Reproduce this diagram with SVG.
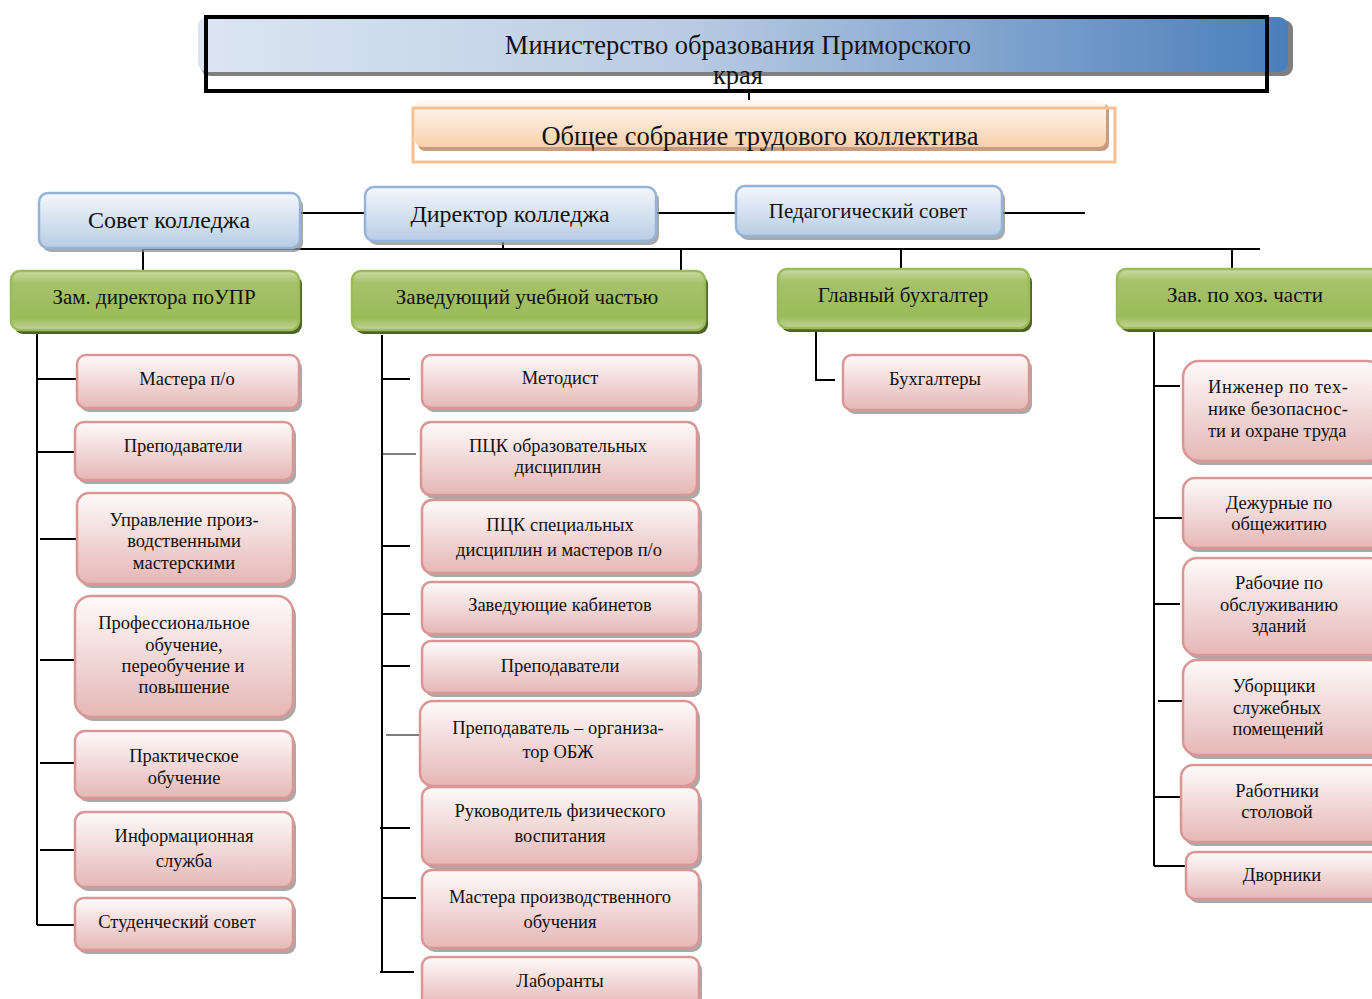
<svg xmlns="http://www.w3.org/2000/svg" width="1372" height="999" viewBox="0 0 1372 999">
<defs>
<linearGradient id="gMin" x1="0" y1="0" x2="1" y2="0"><stop offset="0" stop-color="#dce6f2"/><stop offset="0.45" stop-color="#b9cbe3"/><stop offset="1" stop-color="#4a7ebb"/></linearGradient>
<linearGradient id="gOr" x1="0" y1="0" x2="0" y2="1"><stop offset="0" stop-color="#fffaf6"/><stop offset="1" stop-color="#f9d0ac"/></linearGradient>
<linearGradient id="gBlue" x1="0" y1="0" x2="0" y2="1"><stop offset="0" stop-color="#f4f7fc"/><stop offset="1" stop-color="#b8cce4"/></linearGradient>
<linearGradient id="gGreen" x1="0" y1="0" x2="0" y2="1"><stop offset="0" stop-color="#c9dca5"/><stop offset="0.2" stop-color="#a6c26a"/><stop offset="0.8" stop-color="#9bbb59"/><stop offset="1" stop-color="#c3d69b"/></linearGradient>
<linearGradient id="gPink" x1="0" y1="0" x2="0" y2="1"><stop offset="0" stop-color="#fefafa"/><stop offset="1" stop-color="#e5b7b6"/></linearGradient>
<style>
text{font-family:"Liberation Serif","Times New Roman",serif;fill:#111;text-anchor:middle}
.t26{font-size:26.5px}.t24{font-size:24px}.t21{font-size:21px}.t18{font-size:18.5px}
.sh{fill:#8c8c8c;opacity:0.75}
.shg{fill:#4f6228}
.blue{fill:url(#gBlue);stroke:#95b3d7;stroke-width:2.5}
.green{fill:url(#gGreen);stroke:#9bbb59;stroke-width:2.5}
.pink{fill:url(#gPink);stroke:#d99694;stroke-width:2.5}
.ln{stroke:#000;stroke-width:2;fill:none}
.lt{stroke:#000;stroke-width:1.2;fill:none}
</style>
</defs>

<g id="connectors">
<line class="ln" x1="749" y1="92" x2="749" y2="106"/>
<line class="ln" x1="300" y1="213" x2="366" y2="213"/>
<line class="ln" x1="656" y1="213" x2="737" y2="213"/>
<line class="ln" x1="1002" y1="213" x2="1085" y2="213"/>
<line class="ln" x1="503" y1="241" x2="503" y2="249"/>
<line class="ln" x1="143" y1="249" x2="1260" y2="249"/>
<line class="ln" x1="143" y1="249" x2="143" y2="271"/>
<line class="ln" x1="681" y1="249" x2="681" y2="271"/>
<line class="ln" x1="901" y1="249" x2="901" y2="269"/>
<line class="ln" x1="1232" y1="249" x2="1232" y2="269"/>
<!-- left column -->
<line class="ln" x1="37" y1="334" x2="37" y2="925"/>
<line class="ln" x1="37" y1="379" x2="77" y2="379"/>
<line class="ln" x1="37" y1="452" x2="76" y2="452"/>
<line class="ln" x1="40" y1="539" x2="77" y2="539"/>
<line class="ln" x1="40" y1="660" x2="75" y2="660"/>
<line class="ln" x1="40" y1="763" x2="75" y2="763"/>
<line class="ln" x1="40" y1="850" x2="75" y2="850"/>
<line class="ln" x1="37" y1="925" x2="75" y2="925"/>
<!-- middle column -->
<line class="ln" x1="382" y1="335" x2="382" y2="972"/>
<line class="ln" x1="382" y1="379" x2="410" y2="379"/>
<line class="lt" x1="382" y1="454" x2="416" y2="454"/>
<line class="ln" x1="382" y1="546" x2="410" y2="546"/>
<line class="ln" x1="382" y1="614" x2="410" y2="614"/>
<line class="ln" x1="382" y1="666" x2="410" y2="666"/>
<line class="lt" x1="386" y1="735" x2="419" y2="735"/>
<line class="ln" x1="380" y1="828" x2="410" y2="828"/>
<line class="ln" x1="382" y1="898" x2="416" y2="898"/>
<line class="ln" x1="380" y1="972" x2="414" y2="972"/>
<!-- accountant -->
<polyline class="ln" points="816,330 816,380 835,380"/>
<!-- right column -->
<line class="ln" x1="1154" y1="330" x2="1154" y2="866"/>
<line class="ln" x1="1154" y1="386" x2="1180" y2="386"/>
<line class="ln" x1="1154" y1="518" x2="1182" y2="518"/>
<line class="ln" x1="1154" y1="604" x2="1180" y2="604"/>
<line class="ln" x1="1158" y1="701" x2="1182" y2="701"/>
<line class="ln" x1="1154" y1="797" x2="1180" y2="797"/>
<line class="ln" x1="1154" y1="866" x2="1186" y2="866"/>
</g>

<g id="ministry">
<rect x="201" y="20" width="1092" height="56" rx="9" fill="#7f7f7f"/>
<rect x="198" y="17" width="1090" height="55" rx="9" fill="url(#gMin)"/>
<rect x="206" y="17" width="1061" height="74" fill="none" stroke="#000" stroke-width="4"/>
<text class="t26" x="738" y="54">Министерство образования Приморского</text>
<text class="t26" x="738" y="84">края</text>
</g>

<g id="general-meeting">
<rect x="418" y="103" width="691" height="48" rx="7" fill="#c89c7e"/>
<rect x="415" y="100" width="691" height="47" rx="7" fill="url(#gOr)"/>
<rect x="413" y="108" width="702" height="54" fill="none" stroke="#f7be90" stroke-width="3"/>
<text class="t26" x="760" y="145">Общее собрание трудового коллектива</text>
</g>

<g id="sovet">
<rect class="sh" x="42" y="197" width="261" height="55" rx="9"/>
<rect class="blue" x="39" y="193" width="261" height="55" rx="9"/>
<text class="t24" x="169" y="228">Совет колледжа</text>
</g>
<g id="director">
<rect class="sh" x="368" y="191" width="291" height="54" rx="9"/>
<rect class="blue" x="365" y="187" width="291" height="54" rx="9"/>
<text class="t24" x="510" y="222">Директор колледжа</text>
</g>
<g id="pedsovet">
<rect class="sh" x="739" y="190" width="266" height="50" rx="9"/>
<rect class="blue" x="736" y="186" width="266" height="50" rx="9"/>
<text class="t21" x="868" y="218">Педагогический совет</text>
</g>

<g id="zam-upr">
<rect class="shg" x="14" y="275" width="288" height="59" rx="9"/>
<rect class="green" x="11" y="271" width="288" height="59" rx="9"/>
<text class="t21" x="154" y="304">Зам. директора поУПР</text>
</g>
<g id="zav-uch">
<rect class="shg" x="355" y="275" width="353" height="59" rx="9"/>
<rect class="green" x="352" y="271" width="353" height="59" rx="9"/>
<text class="t21" x="527" y="304">Заведующий учебной частью</text>
</g>
<g id="glav-buh">
<rect class="shg" x="781" y="273" width="251" height="59" rx="9"/>
<rect class="green" x="778" y="269" width="251" height="59" rx="9"/>
<text class="t21" x="903" y="302">Главный бухгалтер</text>
</g>
<g id="zav-hoz">
<rect class="shg" x="1120" y="273" width="270" height="59" rx="9"/>
<rect class="green" x="1117" y="269" width="270" height="59" rx="9"/>
<text class="t21" x="1245" y="302">Зав. по хоз. части</text>
</g>

<!-- left column nodes -->
<g id="mastera-po">
<rect class="sh" x="80" y="359" width="222" height="53" rx="9"/>
<rect class="pink" x="77" y="355" width="222" height="53" rx="9"/>
<text class="t18" x="187" y="385">Мастера п/о</text>
</g>
<g id="prepod-1">
<rect class="sh" x="78" y="426" width="218" height="58" rx="9"/>
<rect class="pink" x="75" y="422" width="218" height="58" rx="9"/>
<text class="t18" x="183" y="452">Преподаватели</text>
</g>
<g id="upr-mast">
<rect class="sh" x="80" y="497" width="216" height="91" rx="12"/>
<rect class="pink" x="77" y="493" width="216" height="91" rx="12"/>
<text class="t18" x="184" y="526">Управление произ-</text>
<text class="t18" x="184" y="547">водственными</text>
<text class="t18" x="184" y="569">мастерскими</text>
</g>
<g id="prof-obuch">
<rect class="sh" x="78" y="600" width="218" height="121" rx="16"/>
<rect class="pink" x="75" y="596" width="218" height="121" rx="16"/>
<text class="t18" x="174" y="629">Профессиональное</text>
<text class="t18" x="184" y="651">обучение,</text>
<text class="t18" x="183" y="672">переобучение и</text>
<text class="t18" x="184" y="693">повышение</text>
</g>
<g id="prakt">
<rect class="sh" x="78" y="735" width="218" height="67" rx="10"/>
<rect class="pink" x="75" y="731" width="218" height="67" rx="10"/>
<text class="t18" x="184" y="762">Практическое</text>
<text class="t18" x="184" y="784">обучение</text>
</g>
<g id="inform">
<rect class="sh" x="78" y="816" width="218" height="75" rx="10"/>
<rect class="pink" x="75" y="812" width="218" height="75" rx="10"/>
<text class="t18" x="184" y="842">Информационная</text>
<text class="t18" x="184" y="867">служба</text>
</g>
<g id="stud-sovet">
<rect class="sh" x="78" y="902" width="218" height="52" rx="9"/>
<rect class="pink" x="75" y="898" width="218" height="52" rx="9"/>
<text class="t18" x="177" y="928">Студенческий совет</text>
</g>

<!-- middle column nodes -->
<g id="metodist">
<rect class="sh" x="425" y="359" width="277" height="53" rx="9"/>
<rect class="pink" x="422" y="355" width="277" height="53" rx="9"/>
<text class="t18" x="560" y="384">Методист</text>
</g>
<g id="pck-obr">
<rect class="sh" x="424" y="426" width="276" height="73" rx="10"/>
<rect class="pink" x="421" y="422" width="276" height="73" rx="10"/>
<text class="t18" x="558" y="452">ПЦК образовательных</text>
<text class="t18" x="558" y="473">дисциплин</text>
</g>
<g id="pck-spec">
<rect class="sh" x="425" y="504" width="277" height="73" rx="10"/>
<rect class="pink" x="422" y="500" width="277" height="73" rx="10"/>
<text class="t18" x="560" y="531">ПЦК специальных</text>
<text class="t18" x="559" y="556">дисциплин и мастеров п/о</text>
</g>
<g id="zav-kab">
<rect class="sh" x="425" y="586" width="277" height="52" rx="9"/>
<rect class="pink" x="422" y="582" width="277" height="52" rx="9"/>
<text class="t18" x="560" y="611">Заведующие кабинетов</text>
</g>
<g id="prepod-2">
<rect class="sh" x="425" y="645" width="277" height="52" rx="9"/>
<rect class="pink" x="422" y="641" width="277" height="52" rx="9"/>
<text class="t18" x="560" y="672">Преподаватели</text>
</g>
<g id="prepod-obzh">
<rect class="sh" x="423" y="705" width="277" height="85" rx="13"/>
<rect class="pink" x="420" y="701" width="277" height="85" rx="13"/>
<text class="t18" x="558" y="734">Преподаватель – организа-</text>
<text class="t18" x="558" y="758">тор ОБЖ</text>
</g>
<g id="ruk-fiz">
<rect class="sh" x="425" y="791" width="277" height="78" rx="10"/>
<rect class="pink" x="422" y="787" width="277" height="78" rx="10"/>
<text class="t18" x="560" y="817">Руководитель физического</text>
<text class="t18" x="560" y="842">воспитания</text>
</g>
<g id="mastera-proizv">
<rect class="sh" x="425" y="874" width="277" height="78" rx="10"/>
<rect class="pink" x="422" y="870" width="277" height="78" rx="10"/>
<text class="t18" x="560" y="903">Мастера производственного</text>
<text class="t18" x="560" y="928">обучения</text>
</g>
<g id="laboranty">
<rect class="sh" x="425" y="961" width="277" height="50" rx="9"/>
<rect class="pink" x="422" y="957" width="277" height="50" rx="9"/>
<text class="t18" x="560" y="987">Лаборанты</text>
</g>

<!-- accountants -->
<g id="buhgaltery">
<rect class="sh" x="846" y="359" width="186" height="55" rx="9"/>
<rect class="pink" x="843" y="355" width="186" height="55" rx="9"/>
<text class="t18" x="935" y="385">Бухгалтеры</text>
</g>

<!-- right column nodes -->
<g id="inzhener">
<rect class="sh" x="1186" y="365" width="200" height="100" rx="16"/>
<rect class="pink" x="1183" y="361" width="200" height="100" rx="16"/>
<text class="t18" x="1208" y="393" style="text-anchor:start" textLength="140" lengthAdjust="spacing">Инженер по тех-</text>
<text class="t18" x="1208" y="415" style="text-anchor:start" textLength="140" lengthAdjust="spacing">нике безопаснос-</text>
<text class="t18" x="1208" y="437" style="text-anchor:start">ти и охране труда</text>
</g>
<g id="dezhurnye">
<rect class="sh" x="1186" y="482" width="200" height="70" rx="12"/>
<rect class="pink" x="1183" y="478" width="200" height="70" rx="12"/>
<text class="t18" x="1279" y="509">Дежурные по</text>
<text class="t18" x="1279" y="530">общежитию</text>
</g>
<g id="rabochie">
<rect class="sh" x="1186" y="562" width="200" height="97" rx="14"/>
<rect class="pink" x="1183" y="558" width="200" height="97" rx="14"/>
<text class="t18" x="1279" y="589">Рабочие по</text>
<text class="t18" x="1279" y="611">обслуживанию</text>
<text class="t18" x="1279" y="632">зданий</text>
</g>
<g id="uborshchiki">
<rect class="sh" x="1186" y="664" width="200" height="95" rx="14"/>
<rect class="pink" x="1183" y="660" width="200" height="95" rx="14"/>
<text class="t18" x="1274" y="692">Уборщики</text>
<text class="t18" x="1277" y="714">служебных</text>
<text class="t18" x="1278" y="735">помещений</text>
</g>
<g id="stolovaya">
<rect class="sh" x="1184" y="769" width="202" height="77" rx="12"/>
<rect class="pink" x="1181" y="765" width="202" height="77" rx="12"/>
<text class="t18" x="1277" y="797">Работники</text>
<text class="t18" x="1277" y="818">столовой</text>
</g>
<g id="dvorniki">
<rect class="sh" x="1189" y="856" width="197" height="47" rx="9"/>
<rect class="pink" x="1186" y="852" width="197" height="47" rx="9"/>
<text class="t18" x="1282" y="881">Дворники</text>
</g>
</svg>
